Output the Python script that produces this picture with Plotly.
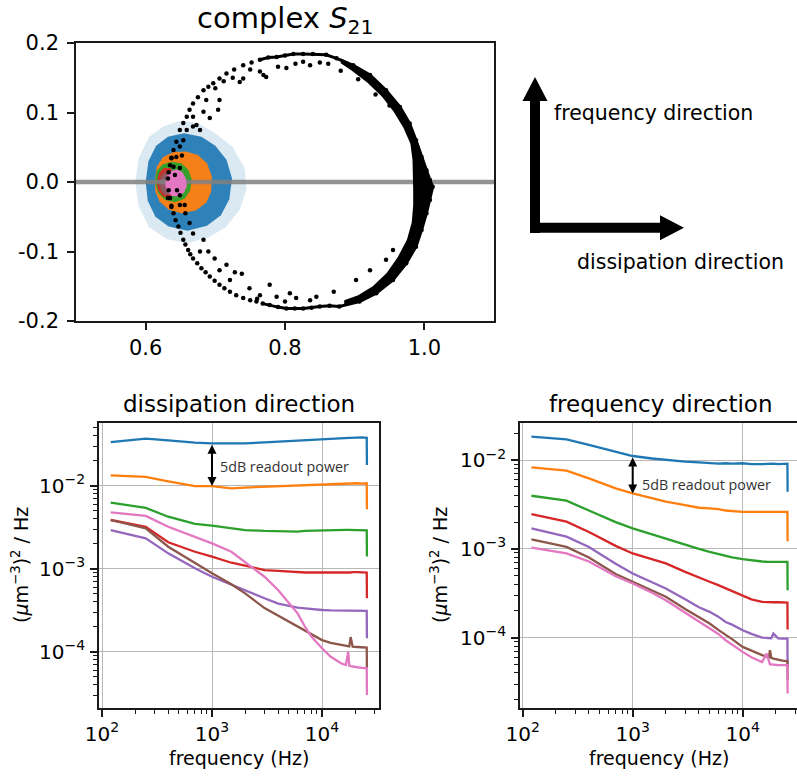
import math
import plotly.graph_objects as go

W, H = 797, 776
FONT = "DejaVu Sans"


def px(x):
    return x / W


def py(y):
    return 1 - y / H


# ---------------- data: complex S21 (top) ----------------
X_RANGE = [0.5, 1.1]
Y_RANGE = [-0.2, 0.2]

# dense right-hand part of the resonance circle
ring_right_x = [0.764, 0.776, 0.788, 0.800, 0.812, 0.826, 0.840, 0.859, 0.874, 0.898, 0.922, 0.945, 0.965,
                0.979, 0.988, 0.996, 1.003, 1.008, 1.012, 1.008, 1.003, 0.996, 0.988, 0.974, 0.955, 0.931,
                0.907, 0.878, 0.864, 0.850, 0.838, 0.826, 0.814, 0.802, 0.790, 0.778, 0.768]
ring_right_y = [0.176, 0.179, 0.180, 0.182, 0.184, 0.184, 0.184, 0.183, 0.178, 0.168, 0.154, 0.132, 0.108,
                0.084, 0.060, 0.036, 0.017, 0.003, -0.007, -0.026, -0.045, -0.069, -0.093, -0.117, -0.141,
                -0.160, -0.172, -0.179, -0.178, -0.179, -0.181, -0.182, -0.182, -0.182, -0.180, -0.177, -0.175]

# sparser left-hand part of the circle
ring_left_x = [0.752, 0.740, 0.727, 0.716, 0.706, 0.697, 0.690, 0.683, 0.675, 0.668, 0.663, 0.659, 0.654,
               0.649, 0.644, 0.640, 0.637, 0.635, 0.633, 0.632, 0.633, 0.635, 0.637, 0.640, 0.643, 0.647,
               0.650, 0.654, 0.657, 0.661, 0.664, 0.668, 0.674, 0.680, 0.686, 0.692, 0.699, 0.706, 0.713,
               0.721, 0.730, 0.740, 0.750, 0.759]
ring_left_y = [0.172, 0.168, 0.162, 0.156, 0.149, 0.142, 0.137, 0.132, 0.122, 0.113, 0.104, 0.094, 0.085,
               0.075, 0.058, 0.046, 0.035, 0.024, 0.014, 0.005, -0.012, -0.023, -0.034, -0.045, -0.055,
               -0.064, -0.073, -0.083, -0.090, -0.098, -0.104, -0.110, -0.117, -0.124, -0.130, -0.136,
               -0.142, -0.148, -0.153, -0.158, -0.163, -0.167, -0.170, -0.172]

scatter_x = [0.687, 0.706, 0.704, 0.692, 0.683, 0.735, 0.740, 0.764, 0.769, 0.773, 0.790, 0.802, 0.826, 0.836,
             0.668, 0.673, 0.659, 0.654, 0.649, 0.644, 0.640, 0.637, 0.678, 0.668, 0.700, 0.712, 0.725, 0.750,
             0.815, 0.850, 0.862, 0.880, 0.905, 0.930, 0.950,
             0.649, 0.656, 0.663, 0.668, 0.683, 0.690, 0.678, 0.699, 0.716, 0.728, 0.738, 0.706, 0.721, 0.749,
             0.778, 0.788, 0.807, 0.816, 0.764, 0.836, 0.845, 0.955, 0.945, 0.922, 0.902, 0.645, 0.642, 0.652,
             0.657, 0.870, 0.800, 0.760, 0.649, 0.632, 0.637, 0.649]
scatter_y = [0.118, 0.118, 0.104, 0.092, 0.101, 0.144, 0.149, 0.159, 0.154, 0.151, 0.166, 0.164, 0.173, 0.168,
             0.094, 0.082, 0.075, 0.060, 0.051, 0.036, 0.022, 0.034, 0.075, 0.080, 0.135, 0.145, 0.150, 0.162,
             0.170, 0.172, 0.170, 0.160, 0.148, 0.126, 0.110,
             -0.033, -0.033, -0.059, -0.074, -0.083, -0.100, -0.100, -0.110, -0.119, -0.130, -0.132, -0.127,
             -0.141, -0.153, -0.148, -0.165, -0.160, -0.167, -0.163, -0.170, -0.165, -0.098, -0.112, -0.127,
             -0.141, -0.012, 0.010, 0.038, -0.045, -0.158, -0.172, -0.168, 0.020, -0.023, -0.036, -0.019]

band_x = [0.880, 0.905, 0.928, 0.948, 0.965, 0.979, 0.990, 0.998, 1.004, 1.008, 1.011, 1.010, 1.007, 1.003,
          0.997, 0.988, 0.974, 0.955, 0.932, 0.907, 0.885,
          0.885, 0.905, 0.926, 0.946, 0.962, 0.975, 0.982, 0.984, 0.984, 0.984, 0.983, 0.980, 0.970, 0.956,
          0.939, 0.918, 0.896, 0.880]
band_y = [0.178, 0.166, 0.150, 0.130, 0.108, 0.084, 0.060, 0.036, 0.018, 0.005, -0.008, -0.020, -0.032, -0.047,
          -0.070, -0.094, -0.118, -0.141, -0.159, -0.171, -0.177,
          -0.170, -0.163, -0.150, -0.131, -0.108, -0.083, -0.058, -0.033, -0.010, 0.010, 0.032, 0.055, 0.078,
          0.101, 0.123, 0.143, 0.160, 0.171]

halo_x = [0.585, 0.590, 0.605, 0.625, 0.650, 0.675, 0.700, 0.725, 0.742, 0.745, 0.735, 0.715, 0.690, 0.660,
          0.630, 0.605, 0.590, 0.585]
halo_y = [0.0, 0.035, 0.065, 0.080, 0.088, 0.085, 0.070, 0.050, 0.020, -0.010, -0.040, -0.065, -0.080,
          -0.088, -0.082, -0.065, -0.035, 0.0]
blue_x = [0.600, 0.604, 0.615, 0.632, 0.655, 0.680, 0.700, 0.716, 0.724, 0.720, 0.708, 0.688, 0.660, 0.633,
          0.614, 0.603, 0.600]
blue_y = [0.0, 0.030, 0.052, 0.065, 0.070, 0.065, 0.052, 0.032, 0.005, -0.025, -0.048, -0.063, -0.070,
          -0.064, -0.050, -0.027, 0.0]
orange_x = [0.613, 0.616, 0.625, 0.640, 0.658, 0.675, 0.688, 0.695, 0.694, 0.687, 0.672, 0.652, 0.633, 0.620,
            0.614, 0.613]
orange_y = [0.0, 0.022, 0.036, 0.043, 0.044, 0.039, 0.027, 0.008, -0.014, -0.030, -0.041, -0.045, -0.040,
            -0.028, -0.014, 0.0]
green_x = [0.613, 0.616, 0.624, 0.637, 0.651, 0.661, 0.666, 0.664, 0.656, 0.642, 0.628, 0.618, 0.613]
green_y = [0.0, 0.016, 0.025, 0.029, 0.027, 0.018, 0.004, -0.012, -0.024, -0.029, -0.026, -0.016, 0.0]
red_x = [0.616, 0.619, 0.626, 0.635, 0.642, 0.645, 0.642, 0.634, 0.625, 0.618, 0.616]
red_y = [0.0, 0.013, 0.020, 0.020, 0.012, -0.002, -0.015, -0.022, -0.021, -0.012, 0.0]
purple_x = [0.620, 0.624, 0.632, 0.639, 0.641, 0.635, 0.626, 0.620]
purple_y = [-0.004, 0.009, 0.013, 0.006, -0.009, -0.018, -0.017, -0.004]
brown_x = [0.619, 0.622, 0.629, 0.637, 0.642, 0.642, 0.637, 0.628, 0.621, 0.619]
brown_y = [0.0, 0.011, 0.016, 0.015, 0.006, -0.008, -0.017, -0.019, -0.012, 0.0]
pink_x = [0.628, 0.630, 0.636, 0.645, 0.653, 0.658, 0.659, 0.655, 0.647, 0.638, 0.631, 0.628]
pink_y = [-0.004, 0.008, 0.016, 0.018, 0.014, 0.004, -0.006, -0.015, -0.021, -0.020, -0.014, -0.004]

# ---------------- data: noise spectra (bottom) ----------------
freq = [120, 250, 400, 700, 1000, 1500, 2000, 3000, 4000, 5000, 6000, 7000, 8000, 10000, 12000, 15000,
        16500, 17300, 17700, 18200, 19000, 21000, 23000, 25500, 25600]

diss = {
    "blue":   [0.0334, 0.0368, 0.0352, 0.0330, 0.0324, 0.0322, 0.0324, 0.0332, 0.0340, 0.0346, 0.0350, 0.0355,
               0.0358, 0.0362, 0.0366, 0.0372, 0.0374, 0.0376, 0.0377, 0.0376, 0.0378, 0.0380, 0.0381, 0.0378, 0.0178],
    "orange": [0.0133, 0.0128, 0.0113, 0.0099, 0.0099, 0.0093, 0.0095, 0.0097, 0.0099, 0.0100, 0.0101, 0.0102,
               0.0103, 0.0104, 0.0105, 0.0106, 0.0106, 0.0107, 0.0107, 0.0107, 0.0107, 0.0107, 0.0106, 0.0107, 0.0052],
    "green":  [0.00624, 0.0054, 0.00423, 0.00346, 0.0033, 0.00305, 0.00292, 0.00285, 0.00282, 0.00279, 0.0028,
               0.00285, 0.00287, 0.0029, 0.00292, 0.00293, 0.00293, 0.00293, 0.00293, 0.00294, 0.00294, 0.00294,
               0.00292, 0.0029, 0.0014],
    "red":    [0.00386, 0.0032, 0.00208, 0.0016, 0.0014, 0.00118, 0.00109, 0.00096, 0.00094, 0.00092, 0.00091,
               0.0009, 0.0009, 0.000895, 0.0009, 0.0009, 0.0009, 0.0009, 0.0009, 0.0009, 0.00091, 0.00091, 0.0009,
               0.0009, 0.00044],
    "purple": [0.00292, 0.00232, 0.00153, 0.00101, 0.0008, 0.00064, 0.00054, 0.00044, 0.00038, 0.000355, 0.00034,
               0.000333, 0.000325, 0.000318, 0.000315, 0.000312, 0.000313, 0.000314, 0.000315, 0.000315, 0.000312,
               0.000312, 0.000312, 0.00031, 0.000145],
    "brown":  [0.00386, 0.00306, 0.00184, 0.00116, 0.00088, 0.00065, 0.000505, 0.000335, 0.00027, 0.00023, 0.0002,
               0.000179, 0.000162, 0.000138, 0.000128, 0.00012, 0.000118, 0.000117, 0.000116, 0.00015, 0.000115,
               0.000114, 0.000113, 0.000112, 0.000063],
    "pink":   [0.00478, 0.00432, 0.0032, 0.00243, 0.00202, 0.0016, 0.00121, 0.0008, 0.00055, 0.000383, 0.00029,
               0.0002, 0.000152, 0.00011, 0.000087, 0.000072, 0.000069, 0.0001, 0.000068, 0.000067, 0.000066,
               0.000065, 0.000064, 0.000063, 0.00003],
}

freqdir = {
    "blue":   [0.0183, 0.0171, 0.0148, 0.0124, 0.0111, 0.0104, 0.0100, 0.0096, 0.0094, 0.0092, 0.0091, 0.0092,
               0.0091, 0.0092, 0.0090, 0.0090, 0.0091, 0.0091, 0.0090, 0.0091, 0.0091, 0.0090, 0.0091, 0.0091, 0.0044],
    "orange": [0.00826, 0.00758, 0.0062, 0.0048, 0.0042, 0.0037, 0.00339, 0.0031, 0.0029, 0.00285, 0.0028, 0.0027,
               0.00265, 0.00261, 0.0026, 0.0026, 0.0026, 0.0026, 0.0026, 0.0026, 0.0026, 0.0026, 0.0026, 0.0026, 0.00122],
    "green":  [0.00396, 0.00348, 0.0027, 0.0020, 0.0017, 0.00145, 0.00131, 0.0011, 0.001, 0.000925, 0.00087, 0.00083,
               0.0008, 0.000765, 0.00074, 0.00072, 0.000715, 0.000715, 0.000713, 0.000713, 0.000713, 0.000713,
               0.00071, 0.000713, 0.000342],
    "red":    [0.00246, 0.00202, 0.00155, 0.00108, 0.000887, 0.00076, 0.000684, 0.00055, 0.00047, 0.000425, 0.00039,
               0.00036, 0.00033, 0.000293, 0.00027, 0.000253, 0.00025, 0.00025, 0.00025, 0.00025, 0.00025, 0.00025,
               0.00025, 0.000248, 0.000123],
    "purple": [0.0017, 0.00137, 0.00105, 0.00068, 0.000528, 0.00042, 0.000357, 0.00027, 0.00022, 0.000195,
               0.000172, 0.00015, 0.00014, 0.000121, 0.00011, 0.0001, 0.0000985, 0.000098, 0.000098, 0.0000985,
               0.000111, 0.000098, 0.0000975, 0.0000975, 0.0000468],
    "brown":  [0.00128, 0.00105, 0.0008, 0.00052, 0.000425, 0.00034, 0.000288, 0.00021, 0.00017, 0.000144,
               0.000122, 0.000106, 0.000096, 0.0000786, 0.000071, 0.0000634, 0.000061, 0.00006, 0.000072,
               0.000059, 0.000058, 0.000056, 0.000055, 0.0000542, 0.000033],
    "pink":   [0.00103, 0.000887, 0.00072, 0.00049, 0.000407, 0.00032, 0.000264, 0.00019, 0.00015, 0.000127,
               0.00011, 0.0000933, 0.000083, 0.000069, 0.00006, 0.0000532, 0.000066, 0.000052, 0.00005, 0.00005,
               0.0000495, 0.000049, 0.000049, 0.0000489, 0.0000234],
}

COLORS = {"blue": "#1f77b4", "orange": "#ff7f0e", "green": "#2ca02c", "red": "#d62728",
          "purple": "#9467bd", "brown": "#8c564b", "pink": "#e377c2"}

x_ticks_log = [100, 1000, 10000]
x_ticktext_log = ["10<sup>2</sup>", "10<sup>3</sup>", "10<sup>4</sup>"]
y_ticks_log = [1e-4, 1e-3, 1e-2]
y_ticktext_log = ["10<sup>−4</sup>", "10<sup>−3</sup>", "10<sup>−2</sup>"]

arrow_diss = (1000, 0.0324, 0.0099)
arrow_freq = (1000, 0.0111, 0.0042)

# ---------------- figure ----------------
fig = go.Figure()


def poly(xs, ys, color):
    fig.add_trace(go.Scatter(x=xs, y=ys, mode="lines", fill="toself", fillcolor=color,
                             line=dict(width=0, color=color), hoverinfo="skip", xaxis="x", yaxis="y"))


poly(halo_x, halo_y, "rgba(31,119,180,0.16)")
poly(blue_x, blue_y, "rgba(31,119,180,0.92)")
poly(orange_x, orange_y, "rgba(255,127,14,0.95)")
poly(green_x, green_y, "rgba(44,160,44,0.95)")
poly(red_x, red_y, "rgba(214,39,40,0.95)")
poly(purple_x, purple_y, "rgba(148,103,189,0.9)")
poly(brown_x, brown_y, "rgba(140,86,75,0.75)")
fig.add_trace(go.Scatter(x=X_RANGE, y=[0, 0], mode="lines", line=dict(color="rgba(128,128,128,0.85)", width=4.5),
                         hoverinfo="skip", xaxis="x", yaxis="y"))
poly(pink_x, pink_y, "rgba(227,119,194,1)")
poly(band_x, band_y, "black")
fig.add_trace(go.Scatter(x=ring_right_x, y=ring_right_y, mode="lines+markers", line=dict(color="black", width=3),
                         marker=dict(color="black", size=4.5), xaxis="x", yaxis="y"))
fig.add_trace(go.Scatter(x=ring_left_x, y=ring_left_y, mode="markers", marker=dict(color="black", size=4.5),
                         xaxis="x", yaxis="y"))
fig.add_trace(go.Scatter(x=scatter_x, y=scatter_y, mode="markers", marker=dict(color="black", size=4.5),
                         xaxis="x", yaxis="y"))

for name, vals in diss.items():
    fig.add_trace(go.Scatter(x=freq, y=vals, mode="lines", line=dict(color=COLORS[name], width=2.3),
                             xaxis="x2", yaxis="y2"))
for name, vals in freqdir.items():
    fig.add_trace(go.Scatter(x=freq, y=vals, mode="lines", line=dict(color=COLORS[name], width=2.3),
                             xaxis="x3", yaxis="y3"))

LINE = "#1a1a1a"
base = dict(showline=True, linecolor=LINE, linewidth=1.6, ticks="outside", ticklen=7, tickwidth=1.6,
            tickcolor=LINE, zeroline=False, fixedrange=True, automargin=False)

minor_x = [k * 10 ** e for e in (1, 2, 3, 4) for k in range(2, 10)]
minor_y = [k * 10 ** e for e in (-6, -5, -4, -3, -2) for k in range(2, 10)]

log_x = dict(base, type="log", tickvals=x_ticks_log, ticktext=x_ticktext_log, showgrid=True,
             gridcolor="#b8b8b8", gridwidth=1.3, tickfont=dict(family=FONT, size=20, color="black"),
             minor=dict(tickvals=minor_x, ticks="outside", ticklen=4, tickwidth=1.2, tickcolor=LINE,
                        showgrid=False))
log_y = dict(base, type="log", tickvals=y_ticks_log, ticktext=y_ticktext_log, showgrid=True,
             gridcolor="#b8b8b8", gridwidth=1.3, tickfont=dict(family=FONT, size=20, color="black"),
             minor=dict(tickvals=minor_y, ticks="outside", ticklen=4, tickwidth=1.2, tickcolor=LINE,
                        showgrid=False), ticklabelstandoff=1)

fig.update_layout(
    width=W, height=H, margin=dict(l=0, r=0, t=0, b=0, autoexpand=False), showlegend=False,
    paper_bgcolor="white", plot_bgcolor="white",
    xaxis=dict(base, domain=[px(76), px(494)], range=X_RANGE, tickvals=[0.6, 0.8, 1.0],
               ticktext=["0.6", "0.8", "1.0"], mirror=True, showgrid=False, anchor="y",
               tickfont=dict(family=FONT, size=21, color="black")),
    yaxis=dict(base, domain=[py(321), py(43)], range=Y_RANGE, tickvals=[-0.2, -0.1, 0.0, 0.1, 0.2],
               ticktext=["-0.2", "-0.1", "0.0", "0.1", "0.2"], mirror=True, showgrid=False, anchor="x",
               tickfont=dict(family=FONT, size=21, color="black"), ticklabelstandoff=4),
    xaxis2=dict(log_x, domain=[px(99), px(379)], range=[1.9727, 4.518], mirror=True, anchor="y2"),
    yaxis2=dict(log_y, domain=[py(708), py(423)], range=[-4.678, -1.245], mirror=True, anchor="x2"),
    xaxis3=dict(log_x, domain=[px(520), 1.0], range=[1.9755, 4.4936], mirror=True, anchor="y3"),
    yaxis3=dict(log_y, domain=[py(708), py(423)], range=[-4.793, -1.583], mirror=False, anchor="x3"),
)

ann = []


def text(t, x, y, size, xanchor="center", angle=0, family=FONT, color="black"):
    ann.append(dict(text=t, x=px(x), y=py(y), xref="paper", yref="paper", showarrow=False,
                    xanchor=xanchor, yanchor="middle", textangle=angle,
                    font=dict(family=family, size=size, color=color)))


text("complex <i>S</i><sub>21</sub>", 285, 20, 29)
text("dissipation direction", 239, 404, 23)
text("frequency direction", 660, 404, 23)
text("frequency direction", 552, 113, 20.5, xanchor="left")
text("dissipation direction", 575, 262, 20.5, xanchor="left")
ylab = "(<i>μ</i>m<sup>−3</sup>)<sup>2</sup> / Hz"
text(ylab, 20, 565, 19, angle=-90)
text(ylab, 439, 565, 19, angle=-90)
text("frequency (Hz)", 239, 758, 19)
text("frequency (Hz)", 659, 758, 19)
text("5dB readout power", 218, 466, 14.3, xanchor="left", family="Open Sans", color="#333333")
text("5dB readout power", 640, 484, 14.3, xanchor="left", family="Open Sans", color="#333333")

for (f, v0, v1), xr, yr in [(arrow_diss, "x2", "y2"), (arrow_freq, "x3", "y3")]:
    ann.append(dict(text="", x=math.log10(f), y=math.log10(v1), ax=math.log10(f), ay=math.log10(v0),
                    xref=xr, yref=yr, axref=xr, ayref=yr, showarrow=True, arrowhead=2, startarrowhead=2,
                    arrowside="end+start", arrowwidth=2, arrowsize=0.9, startarrowsize=0.9,
                    arrowcolor="black"))

fig.update_layout(annotations=ann)

# big direction arrows (decoration)
shapes = []
shapes.append(dict(type="line", xref="paper", yref="paper", x0=px(535), x1=px(535), y0=py(233), y1=py(99),
                   line=dict(color="black", width=10)))
shapes.append(dict(type="path", xref="paper", yref="paper",
                   path=f"M {px(535)},{py(77)} L {px(522.5)},{py(101)} L {px(547.5)},{py(101)} Z",
                   fillcolor="black", line=dict(width=0)))
shapes.append(dict(type="line", xref="paper", yref="paper", x0=px(530), x1=px(662), y0=py(227.7), y1=py(227.7),
                   line=dict(color="black", width=10)))
shapes.append(dict(type="path", xref="paper", yref="paper",
                   path=f"M {px(684)},{py(227.7)} L {px(660)},{py(215.2)} L {px(660)},{py(240.2)} Z",
                   fillcolor="black", line=dict(width=0)))
fig.update_layout(shapes=shapes)

fig.write_html("out.html")
